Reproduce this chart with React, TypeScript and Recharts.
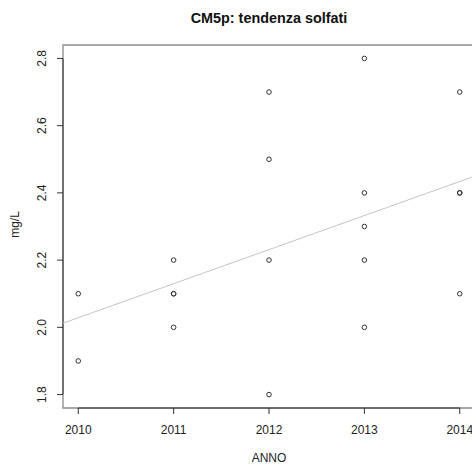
import React from 'react';
import { ScatterChart, Scatter, XAxis, YAxis, ReferenceLine, ReferenceArea } from 'recharts';

const years = [2010, 2011, 2012, 2013, 2014];
const values2010 = [2.1, 1.9];
const values2011 = [2.2, 2.1, 2.1, 2.0];
const values2012 = [2.7, 2.5, 2.2, 1.8];
const values2013 = [2.8, 2.4, 2.3, 2.2, 2.0];
const values2014 = [2.7, 2.4, 2.4, 2.1];
const yTicks = [1.8, 2.0, 2.2, 2.4, 2.6, 2.8];
const xTicks = years;
const title = 'CM5p: tendenza solfati';
const xLabel = 'ANNO';
const yLabel = 'mg/L';

const valuesByYear = [values2010, values2011, values2012, values2013, values2014];
const points = years.flatMap((yr, i) => valuesByYear[i].map((v) => ({ x: yr, y: v })));

// R-style 4% range extension
const xMinD = Math.min(...years);
const xMaxD = Math.max(...years);
const yMinD = Math.min(...points.map((p) => p.y));
const yMaxD = Math.max(...points.map((p) => p.y));
const xPad = (xMaxD - xMinD) * 0.04;
const yPad = (yMaxD - yMinD) * 0.04;
const xMin = xMinD - xPad;
const xMax = xMaxD + xPad;
const yMin = yMinD - yPad;
const yMax = yMaxD + yPad;

// least squares fit
const n = points.length;
const mx = points.reduce((s, p) => s + p.x, 0) / n;
const my = points.reduce((s, p) => s + p.y, 0) / n;
const sxy = points.reduce((s, p) => s + (p.x - mx) * (p.y - my), 0);
const sxx = points.reduce((s, p) => s + (p.x - mx) * (p.x - mx), 0);
const slope = sxy / sxx;
const intercept = my - slope * mx;
const fitAt = (x: number) => intercept + slope * x;

const FONT = '"Liberation Sans", Arial, Helvetica, sans-serif';

const YTick = (props: any) => {
  const { x, y, payload } = props;
  return (
    <text
      transform={`translate(${x - 9},${y}) rotate(-90)`}
      textAnchor="middle"
      fontFamily={FONT}
      fontSize={12}
      fill="#222"
    >
      {Number(payload.value).toFixed(1)}
    </text>
  );
};

const XTick = (props: any) => {
  const { x, y, payload } = props;
  return (
    <text x={x} y={y + 17.8} textAnchor="middle" fontFamily={FONT} fontSize={12} fill="#222">
      {payload.value}
    </text>
  );
};

const Dot = (props: any) => {
  const { cx, cy } = props;
  return <circle cx={cx} cy={cy} r={2.3} fill="none" stroke="#333" strokeWidth={1} />;
};

export default function App() {
  return (
    <div style={{ position: 'absolute', left: 0, top: 0, width: 472, height: 464, overflow: 'hidden', background: '#fff' }}>
      <ScatterChart width={480} height={464} margin={{ top: 45, right: 5, bottom: 0, left: 0 }}>
        <XAxis
          type="number"
          dataKey="x"
          domain={[xMin, xMax]}
          ticks={xTicks}
          axisLine={false}
          tickLine={{ stroke: '#333' }}
          tickSize={6}
          tick={<XTick />}
          allowDataOverflow
          height={56}
        />
        <YAxis
          type="number"
          dataKey="y"
          domain={[yMin, yMax]}
          ticks={yTicks}
          axisLine={false}
          tickLine={{ stroke: '#333' }}
          tickSize={6}
          tick={<YTick />}
          allowDataOverflow
          width={63}
        />
        <ReferenceArea x1={xMin} x2={xMax} y1={yMin} y2={yMax} fill="none" stroke="#8a8a8a" strokeWidth={1.3} />
        <ReferenceLine
          segment={[{ x: xMin, y: yTicks[0] }, { x: xMin, y: yTicks[yTicks.length - 1] }]}
          stroke="#333"
          strokeWidth={1}
        />
        <ReferenceLine
          segment={[{ x: xTicks[0], y: yMin }, { x: xTicks[xTicks.length - 1], y: yMin }]}
          stroke="#333"
          strokeWidth={1}
        />
        <ReferenceLine
          segment={[{ x: xMin, y: fitAt(xMin) }, { x: xMax, y: fitAt(xMax) }]}
          stroke="#c4c4c4"
          strokeWidth={1}
        />
        <Scatter data={points} shape={<Dot />} isAnimationActive={false} />
      </ScatterChart>
      <svg width={472} height={464} style={{ position: 'absolute', left: 0, top: 0, pointerEvents: 'none' }}>
        <text x={269} y={22.5} textAnchor="middle" fontFamily={FONT} fontWeight="bold" fontSize={14.4} fill="#111">
          {title}
        </text>
        <text x={269} y={462} textAnchor="middle" fontFamily={FONT} fontSize={12} fill="#222">
          {xLabel}
        </text>
        <text transform="translate(19,224.5) rotate(-90)" textAnchor="middle" fontFamily={FONT} fontSize={12} fill="#222">
          {yLabel}
        </text>
      </svg>
    </div>
  );
}
